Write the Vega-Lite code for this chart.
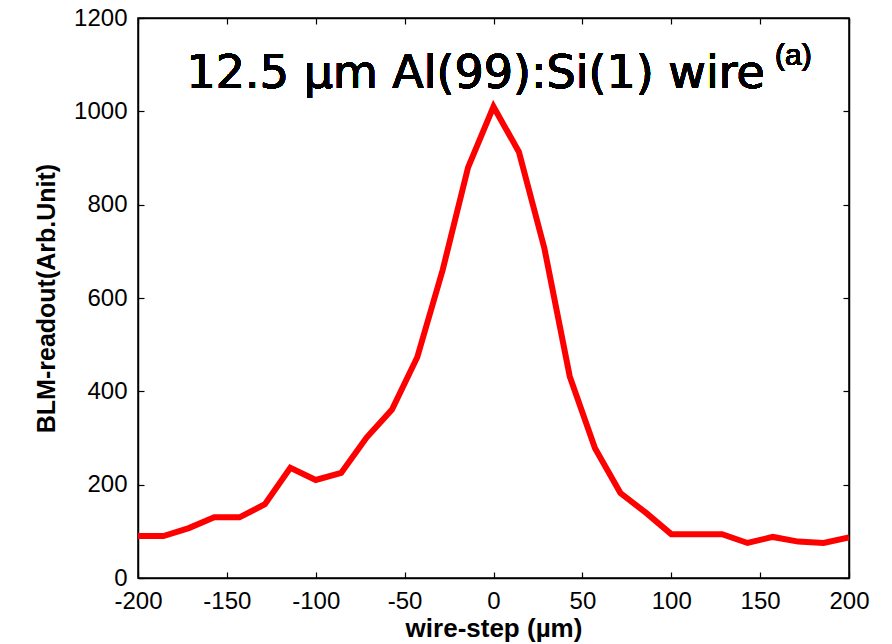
{
  "$schema": "https://vega.github.io/schema/vega-lite/v6.json",
  "width": 711,
  "height": 560,
  "autosize": {"type": "none"},
  "padding": {"left": 138, "top": 18, "right": 43, "bottom": 66},
  "background": "white",
  "config": {
    "view": {"stroke": "black", "strokeWidth": 1.5},
    "axis": {
      "grid": false,
      "domainColor": "black",
      "domainWidth": 1.5,
      "tickColor": "black",
      "tickWidth": 1.2,
      "labelFont": "Liberation Sans",
      "labelFontSize": 24,
      "labelColor": "black",
      "titleFont": "Liberation Sans",
      "titleFontSize": 26,
      "titleFontWeight": "bold",
      "titleColor": "black",
      "labelExpr": "'' + datum.value"
    }
  },
  "data": {
    "values": [
      {"step": -200, "readout": 90},
      {"step": -185.7, "readout": 90},
      {"step": -171.4, "readout": 107},
      {"step": -157.1, "readout": 130},
      {"step": -142.9, "readout": 130},
      {"step": -128.6, "readout": 158},
      {"step": -114.3, "readout": 236},
      {"step": -100, "readout": 210},
      {"step": -85.7, "readout": 225},
      {"step": -71.4, "readout": 301},
      {"step": -57.1, "readout": 361},
      {"step": -42.9, "readout": 473},
      {"step": -28.6, "readout": 660},
      {"step": -14.3, "readout": 880},
      {"step": 0, "readout": 1010},
      {"step": 14.3, "readout": 913},
      {"step": 28.6, "readout": 707},
      {"step": 42.9, "readout": 432},
      {"step": 57.1, "readout": 278},
      {"step": 71.4, "readout": 182},
      {"step": 85.7, "readout": 140},
      {"step": 100, "readout": 94},
      {"step": 114.3, "readout": 94},
      {"step": 128.6, "readout": 94},
      {"step": 142.9, "readout": 75},
      {"step": 157.1, "readout": 88},
      {"step": 171.4, "readout": 78},
      {"step": 185.7, "readout": 75},
      {"step": 200, "readout": 87}
    ]
  },
  "layer": [
    {
      "mark": {"type": "line", "color": "#ff0000", "strokeWidth": 6, "strokeJoin": "miter", "clip": true},
      "encoding": {
        "x": {
          "field": "step", "type": "quantitative",
          "scale": {"domain": [-200, 200], "nice": false, "zero": false},
          "axis": {"orient": "bottom", "values": [-200, -150, -100, -50, 0, 50, 100, 150, 200], "tickSize": -6, "labelPadding": 17, "title": "wire-step (µm)", "titlePadding": 2, "labelFlush": false}
        },
        "y": {
          "field": "readout", "type": "quantitative",
          "scale": {"domain": [0, 1200], "nice": false},
          "axis": {"orient": "left", "values": [0, 200, 400, 600, 800, 1000, 1200], "tickSize": -6, "labelPadding": 17, "title": "BLM-readout(Arb.Unit)", "titleFontSize": 25, "titlePadding": 14, "labelFlush": false}
        }
      }
    },
    {
      "mark": {"type": "line", "opacity": 0},
      "encoding": {
        "x": {
          "field": "step", "type": "quantitative",
          "axis": {"orient": "top", "values": [-200, -150, -100, -50, 0, 50, 100, 150, 200], "tickSize": -6, "labels": false, "title": null}
        },
        "y": {
          "field": "readout", "type": "quantitative",
          "axis": {"orient": "right", "values": [0, 200, 400, 600, 800, 1000, 1200], "tickSize": -6, "labels": false, "title": null}
        }
      }
    },
    {
      "mark": {"type": "text", "font": "DejaVu Sans", "fontSize": 46, "align": "center", "baseline": "alphabetic", "color": "black", "text": "12.5 µm Al(99):Si(1) wire"},
      "encoding": {
        "x": {"datum": -10, "type": "quantitative", "axis": null},
        "y": {"datum": 1050, "type": "quantitative", "axis": null}
      }
    },
    {
      "mark": {"type": "text", "font": "Liberation Sans", "fontSize": 30, "align": "left", "baseline": "alphabetic", "color": "black", "text": "(a)"},
      "encoding": {
        "x": {"datum": 158.4, "type": "quantitative", "axis": null},
        "y": {"datum": 1099, "type": "quantitative", "axis": null}
      }
    }
  ],
  "resolve": {"axis": {"x": "independent", "y": "independent"}}
}
